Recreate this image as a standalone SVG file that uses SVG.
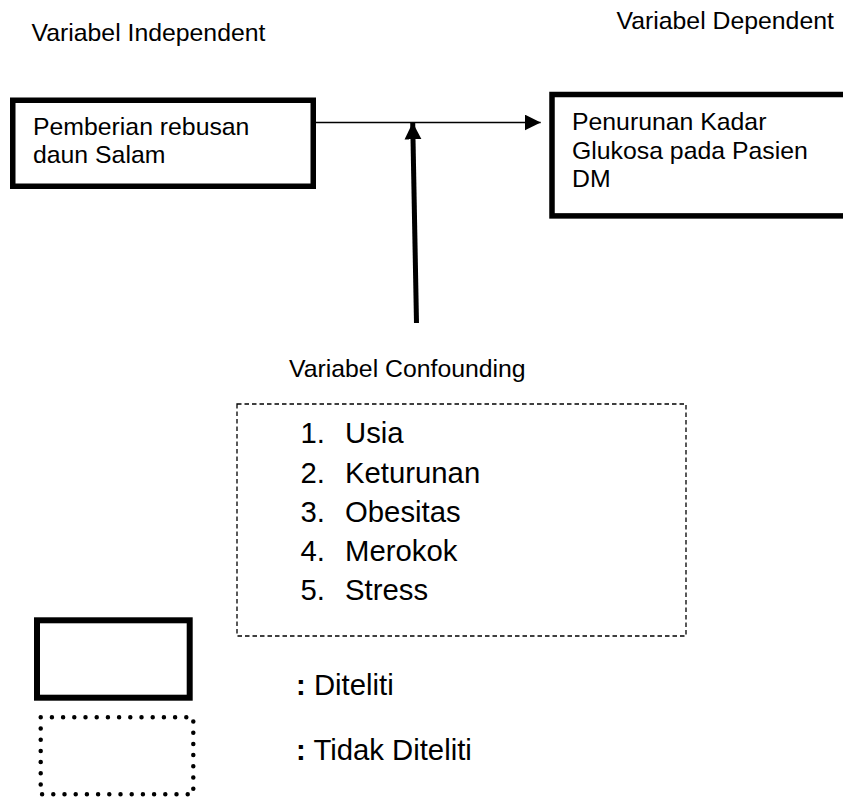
<svg xmlns="http://www.w3.org/2000/svg" width="843" height="800" viewBox="0 0 843 800">
<defs>
<style>
text{font-family:"Liberation Sans",Arial,sans-serif;fill:#000}
.lbl{font-size:24.8px}
.big{font-size:29.3px}
.solid{fill:#fff;stroke:#000;stroke-width:5.5}
</style>
<marker id="ah" markerUnits="userSpaceOnUse" markerWidth="16" markerHeight="16" viewBox="0 0 15 15" refX="15" refY="7.5" orient="auto">
<path d="M0,0 L15,7.5 L0,15 Z" fill="#000"/>
</marker>
<marker id="ah2" markerUnits="userSpaceOnUse" markerWidth="18" markerHeight="18" viewBox="0 0 17 16" refX="16" refY="8" orient="auto">
<path d="M0,0 L16,8 L0,16 Z" fill="#000"/>
</marker>
</defs>
<rect width="843" height="800" fill="#fff"/>
<text class="lbl" x="31.5" y="40.7">Variabel Independent</text>
<text class="lbl" x="616.5" y="29.3">Variabel Dependent</text>
<g id="node-independent">
<rect class="solid" x="12.75" y="100.25" width="300.5" height="86"/>
<text class="lbl" x="33" y="135">Pemberian rebusan</text>
<text class="lbl" x="33" y="163.3">daun Salam</text>
</g>
<g id="node-dependent">
<rect class="solid" x="552" y="94.5" width="310" height="121.4"/>
<text class="lbl" x="572" y="130">Penurunan Kadar</text>
<text class="lbl" x="572" y="159.3">Glukosa pada Pasien</text>
<text class="lbl" x="572" y="187.3">DM</text>
</g>
<g id="connectors">
<line x1="315" y1="122.5" x2="540.7" y2="122.5" stroke="#000" stroke-width="1.5" marker-end="url(#ah)"/>
<line x1="416.5" y1="323" x2="412.7" y2="122.5" stroke="#000" stroke-width="5" marker-end="url(#ah2)"/>
</g>
<text class="lbl" x="289" y="376.7">Variabel Confounding</text>
<g id="node-confounding">
<rect x="237" y="404" width="449" height="232" fill="none" stroke="#000" stroke-width="1.3" stroke-dasharray="4.5 3"/>
<text class="big" x="300.5" y="443.3">1.</text><text class="big" x="345" y="443.3">Usia</text>
<text class="big" x="300.5" y="482.7">2.</text><text class="big" x="345" y="482.7">Keturunan</text>
<text class="big" x="300.5" y="521.7">3.</text><text class="big" x="345" y="521.7">Obesitas</text>
<text class="big" x="300.5" y="561">4.</text><text class="big" x="345" y="561">Merokok</text>
<text class="big" x="300.5" y="600">5.</text><text class="big" x="345" y="600">Stress</text>
</g>
<g id="legend-diteliti">
<rect x="37" y="620.3" width="152.7" height="77.4" fill="#fff" stroke="#000" stroke-width="6"/>
<text class="big" x="296" y="695"><tspan font-weight="bold">:</tspan> Diteliti</text>
</g>
<g id="legend-tidak">
<rect x="40.7" y="717.3" width="152.6" height="77" fill="none" stroke="#000" stroke-width="4.5" stroke-linecap="round" stroke-dasharray="0 11.2"/>
<text class="big" x="296" y="760"><tspan font-weight="bold">:</tspan> Tidak Diteliti</text>
</g>
</svg>
